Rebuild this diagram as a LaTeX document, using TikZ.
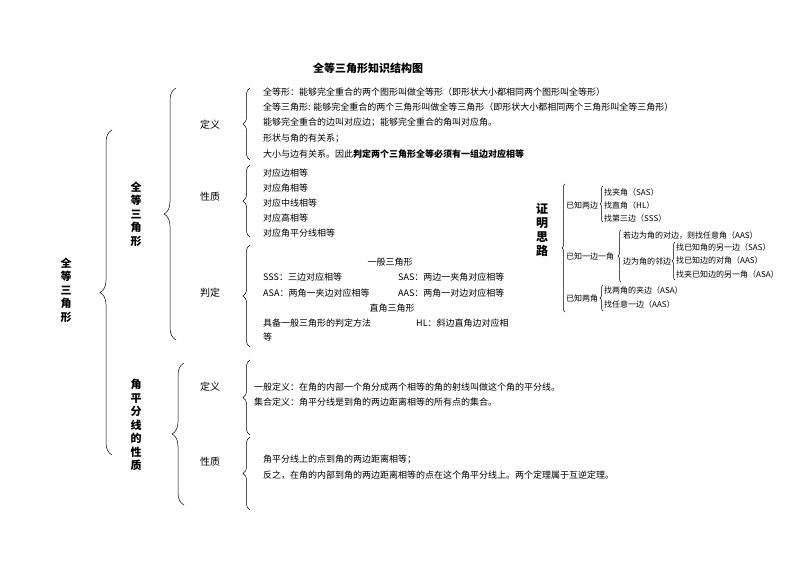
\documentclass[tikz,border=0pt]{standalone}
\usepackage{fontspec}
\setmainfont{Noto Sans CJK SC}
\usetikzlibrary{decorations.pathreplacing}
\begin{document}
\begin{tikzpicture}[x=1pt,y=-1pt,
  t/.style={anchor=west,inner sep=0pt,font=\fontsize{9}{10}\selectfont},
  s/.style={anchor=west,inner sep=0pt,font=\fontsize{8}{9}\selectfont},
  lab/.style={inner sep=0pt,font=\fontsize{10}{11}\selectfont},
  vt/.style={inner sep=0pt,align=center,font=\fontsize{11}{13.5}\selectfont\bfseries},
  bb/.style={decorate,decoration={brace,amplitude=12pt},line width=0.5pt},
  br/.style={decorate,decoration={brace,amplitude=7pt},line width=0.5pt},
  sb/.style={decorate,decoration={brace,amplitude=3pt},line width=0.5pt}]
\useasboundingbox (0,0) rectangle (794,561);
\node[inner sep=0pt,font=\fontsize{11}{12}\selectfont\bfseries] (title) at (368,68) {全等三角形知识结构图};
% level 1
\node[vt] (root) at (66,290) {全\\等\\三\\角\\形};
\draw[bb] (112,455) -- (112,130);
\node[vt] (q) at (136,214) {全\\等\\三\\角\\形};
\draw[bb] (176,340) -- (176,88);
\node[vt] (j) at (136,425) {角\\平\\分\\线\\的\\性\\质};
\draw[bb] (184,505) -- (184,363);
% level 2
\node[lab] (d1) at (210,125) {定义};
\draw[br] (250,160) -- (250,88);
\node[lab] (x1) at (210,197) {性质};
\draw[br] (250,237) -- (250,165);
\node[lab] (p1) at (210,293) {判定};
\draw[br] (250,347) -- (250,245);
\node[lab] (d2) at (210,387) {定义};
\draw[br] (250,435) -- (250,360);
\node[lab] (x2) at (210,462) {性质};
\draw[br] (250,510) -- (250,437);
% texts
\node[t] at (263,92) {全等形：能够完全重合的两个图形叫做全等形（即形状大小都相同两个图形叫全等形）};
\node[t] at (263,107) {全等三角形: 能够完全重合的两个三角形叫做全等三角形（即形状大小都相同两个三角形叫全等三角形）};
\node[t] at (263,122) {能够完全重合的边叫对应边；能够完全重合的角叫对应角。};
\node[t] at (263,138) {形状与角的有关系；};
\node[t] at (263,154) {大小与边有关系。因此\textbf{判定两个三角形全等必须有一组边对应相等}};
\node[t] at (263,173) {对应边相等};
\node[t] at (263,188) {对应角相等};
\node[t] at (263,203) {对应中线相等};
\node[t] at (263,218) {对应高相等};
\node[t] at (263,233) {对应角平分线相等};
\node[t,anchor=center] at (390,262) {一般三角形};
\node[t] at (263,277) {SSS：三边对应相等};
\node[t] at (398,277) {SAS：两边一夹角对应相等};
\node[t] at (263,293) {ASA：两角一夹边对应相等};
\node[t] at (398,293) {AAS：两角一对边对应相等};
\node[t,anchor=center] at (392,308) {直角三角形};
\node[t] at (263,323) {具备一般三角形的判定方法};
\node[t] at (416,323) {HL：斜边直角边对应相};
\node[t] at (263,337) {等};
\node[t] at (254,387) {一般定义：在角的内部一个角分成两个相等的角的射线叫做这个角的平分线。};
\node[t] at (254,402) {集合定义：角平分线是到角的两边距离相等的所有点的集合。};
\node[t] at (263,459) {角平分线上的点到角的两边距离相等；};
\node[t] at (263,475) {反之，在角的内部到角的两边距离相等的点在这个角平分线上。两个定理属于互逆定理。};
% right panel
\node[vt,font=\fontsize{12}{14}\selectfont\bfseries] (zm) at (542,230) {证\\明\\思\\路};
\draw[sb] (565,312) -- (565,184);
\node[s] (a) at (566,205) {已知两边};
\draw[sb] (603,222) -- (603,186);
\node[s] at (604,192) {找夹角（\textit{SAS}）};
\node[s] at (604,205) {找直角（\textit{HL}）};
\node[s] at (604,218) {找第三边（\textit{SSS}）};
\node[s] (b) at (566,256) {已知一边一角};
\draw[sb] (621,282) -- (621,230);
\node[s] at (623,236) {若边为角的对边，则找任意角（\textit{AAS}）};
\node[s] at (623,261) {边为角的邻边};
\draw[sb] (675,280) -- (675,242);
\node[s] at (676,247) {找已知角的另一边（\textit{SAS}）};
\node[s] at (676,260) {找已知边的对角（\textit{AAS}）};
\node[s] at (676,274) {找夹已知边的另一角（\textit{ASA}）};
\node[s] (c) at (566,298) {已知两角};
\draw[sb] (603,311) -- (603,285);
\node[s] at (604,290) {找两角的夹边（\textit{ASA}）};
\node[s] at (604,304) {找任意一边（\textit{AAS}）};
\end{tikzpicture}
\end{document}
